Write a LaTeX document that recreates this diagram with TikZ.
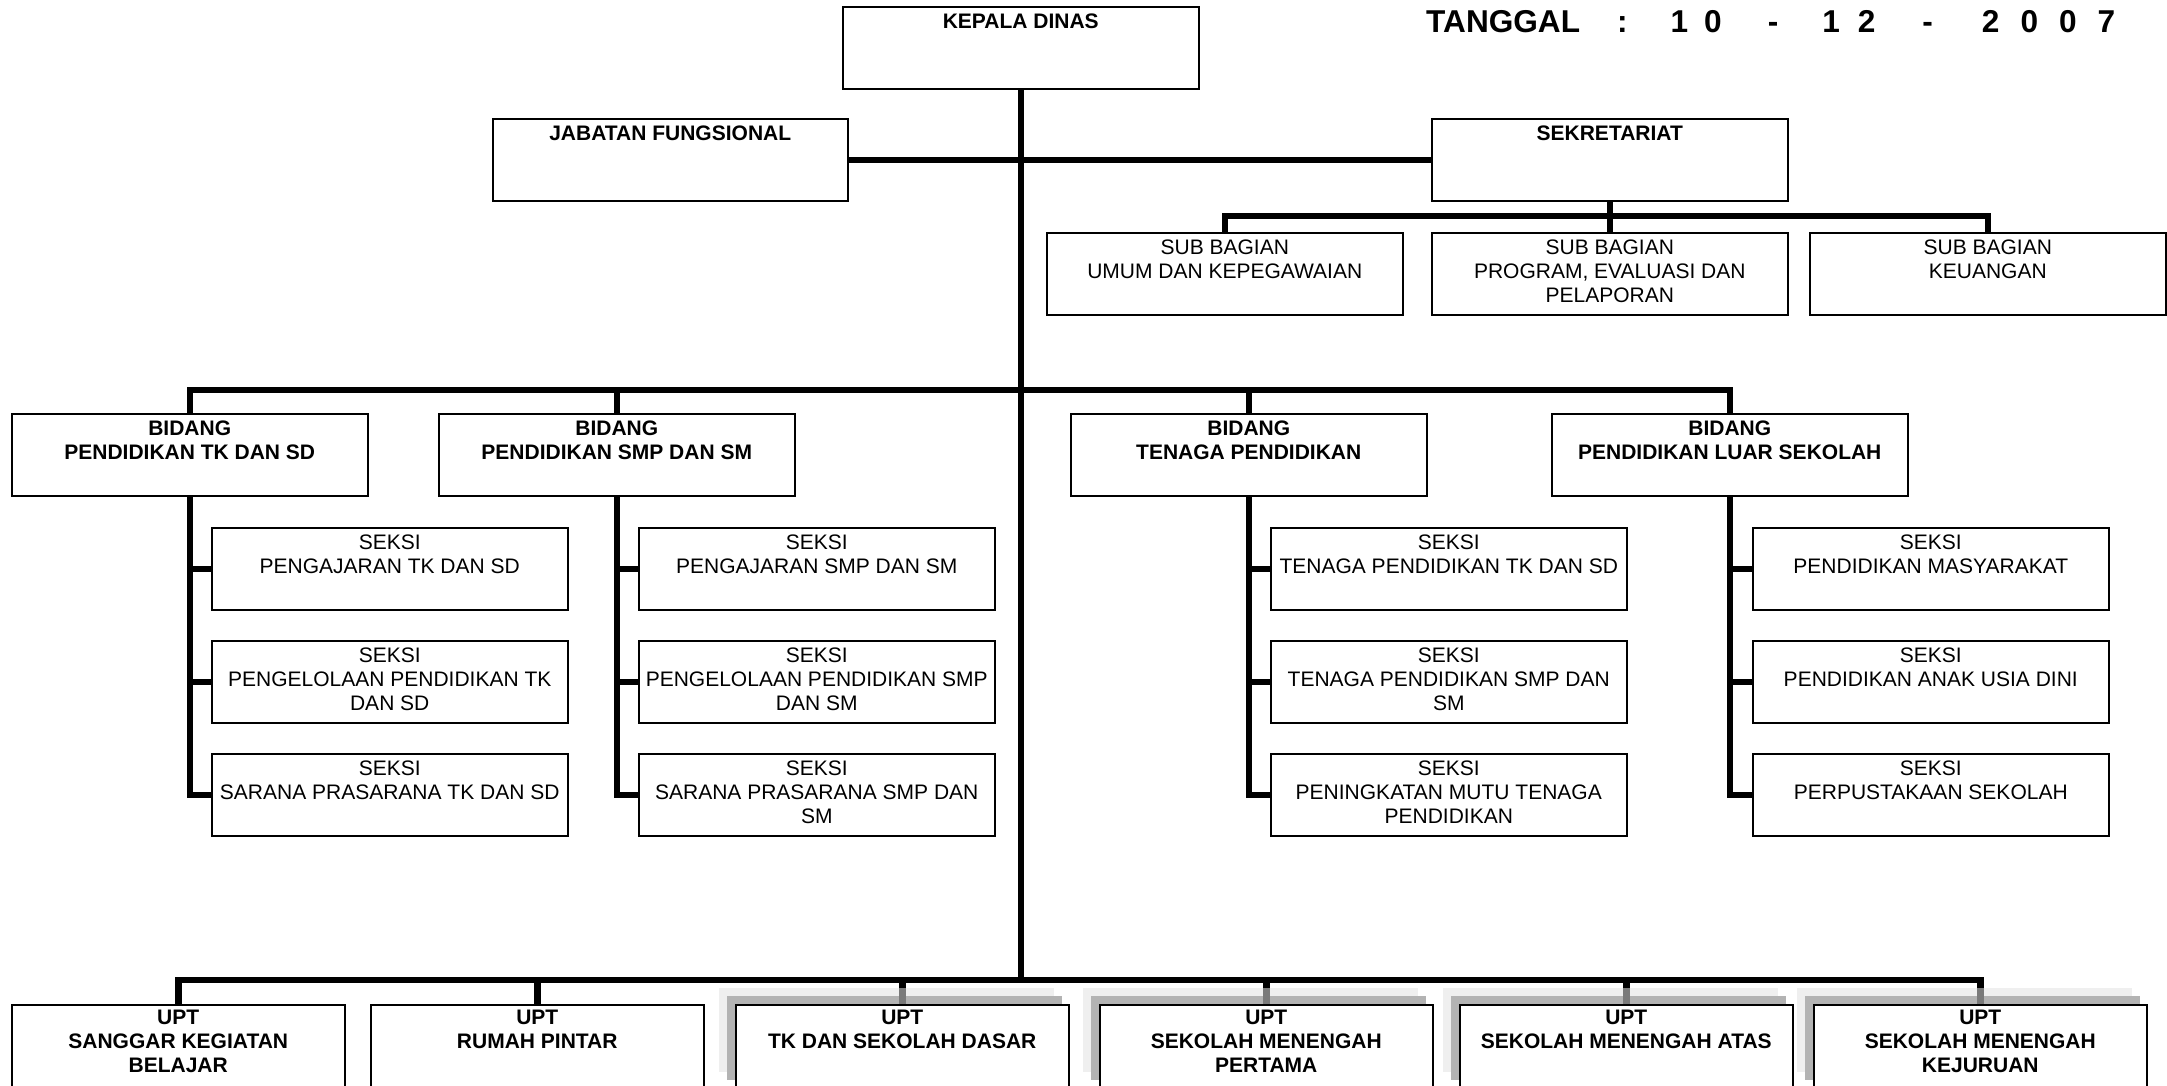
\documentclass[tikz,border=0pt]{standalone}
\usepackage{fontspec}
\setmainfont{Liberation Sans}
\newcommand{\tb}[3][22pt]{\parbox[c][82pt][t]{#2}{\centering\rule{0pt}{#1}#3\par}}
\definecolor{shadowlight}{HTML}{EFEFEF}
\definecolor{shadowmid}{HTML}{B3B3B3}
\definecolor{conngray}{HTML}{7A7A7A}
\pgfdeclarelayer{background}
\pgfsetlayers{background,main}
\tikzset{
  box/.style={draw=black, fill=white, line width=1.5pt, inner sep=0pt, anchor=north west,
    font=\fontsize{21pt}{24pt}\selectfont},
  bbox/.style={box, font=\fontsize{21pt}{24pt}\selectfont\bfseries},
  conn/.style={line width=6.5pt, line join=miter},
  shadowconn/.style={line width=6.6pt, draw=conngray},
  shadowA/.style={fill=shadowlight},
  shadowB/.style={fill=shadowmid}
}
\begin{document}
\begin{tikzpicture}[x=1pt,y=-1pt]
\useasboundingbox (0,0) rectangle (2167,1085);
\clip (0,0) rectangle (2167,1085);

% date
\node[anchor=base west, inner sep=0pt, font=\fontsize{31.6pt}{36pt}\selectfont\bfseries] (tgl) at (1426,32)
  {TANGGAL\hspace{37pt}:\hspace{43pt}1\hspace{16pt}0\hspace{46pt}-\hspace{44pt}1\hspace{18pt}2\hspace{47pt}-\hspace{49pt}2\hspace{21pt}0\hspace{21pt}0\hspace{21pt}7};

% top level
\node[bbox] (kd) at (842,6) {\tb{356pt}{KEPALA DINAS}};
\node[bbox] (jf) at (492,118) {\tb{355pt}{JABATAN FUNGSIONAL}};
\node[bbox] (sk) at (1431,118) {\tb{356pt}{SEKRETARIAT}};

% sub bagian
\node[box] (sb1) at (1046,232) {\tb{356pt}{SUB BAGIAN\\UMUM DAN KEPEGAWAIAN}};
\node[box] (sb2) at (1431,232) {\tb{356pt}{SUB BAGIAN\\PROGRAM, EVALUASI DAN\\PELAPORAN}};
\node[box] (sb3) at (1809,232) {\tb{356pt}{SUB BAGIAN\\KEUANGAN}};

% bidang
\node[bbox] (bd1) at (11,413) {\tb{356pt}{BIDANG\\PENDIDIKAN TK DAN SD}};
\node[bbox] (bd2) at (438,413) {\tb{356pt}{BIDANG\\PENDIDIKAN SMP DAN SM}};
\node[bbox] (bd3) at (1070,413) {\tb{356pt}{BIDANG\\TENAGA PENDIDIKAN}};
\node[bbox] (bd4) at (1551,413) {\tb{356pt}{BIDANG\\PENDIDIKAN LUAR SEKOLAH}};

% seksi
\node[box] (s11) at (211,527) {\tb{356pt}{SEKSI\\PENGAJARAN TK DAN SD}};
\node[box] (s12) at (211,640) {\tb{356pt}{SEKSI\\PENGELOLAAN PENDIDIKAN TK\\DAN SD}};
\node[box] (s13) at (211,753) {\tb{356pt}{SEKSI\\SARANA PRASARANA TK DAN SD}};
\node[box] (s21) at (638,527) {\tb{356pt}{SEKSI\\PENGAJARAN SMP DAN SM}};
\node[box] (s22) at (638,640) {\tb{356pt}{SEKSI\\PENGELOLAAN PENDIDIKAN SMP\\DAN SM}};
\node[box] (s23) at (638,753) {\tb{356pt}{SEKSI\\SARANA PRASARANA SMP DAN\\SM}};
\node[box] (s31) at (1270,527) {\tb{356pt}{SEKSI\\TENAGA PENDIDIKAN TK DAN SD}};
\node[box] (s32) at (1270,640) {\tb{356pt}{SEKSI\\TENAGA PENDIDIKAN SMP DAN\\SM}};
\node[box] (s33) at (1270,753) {\tb{356pt}{SEKSI\\PENINGKATAN MUTU TENAGA\\PENDIDIKAN}};
\node[box] (s41) at (1752,527) {\tb{356pt}{SEKSI\\PENDIDIKAN MASYARAKAT}};
\node[box] (s42) at (1752,640) {\tb{356pt}{SEKSI\\PENDIDIKAN ANAK USIA DINI}};
\node[box] (s43) at (1752,753) {\tb{356pt}{SEKSI\\PERPUSTAKAAN SEKOLAH}};

% UPT
\node[bbox] (u1) at (11,1004) {\tb[20pt]{333pt}{UPT\\SANGGAR KEGIATAN\\BELAJAR}};
\node[bbox] (u2) at (370,1004) {\tb[20pt]{333pt}{UPT\\RUMAH PINTAR}};
\node[bbox] (u3) at (735,1004) {\tb[20pt]{333pt}{UPT\\TK DAN SEKOLAH DASAR}};
\node[bbox] (u4) at (1099,1004) {\tb[20pt]{333pt}{UPT\\SEKOLAH MENENGAH\\PERTAMA}};
\node[bbox] (u5) at (1459,1004) {\tb[20pt]{333pt}{UPT\\SEKOLAH MENENGAH ATAS}};
\node[bbox] (u6) at (1813,1004) {\tb[20pt]{333pt}{UPT\\SEKOLAH MENENGAH\\KEJURUAN}};

% shadows of UPT boxes (behind everything)
\begin{pgfonlayer}{background}
\foreach \u in {u3,u4,u5,u6}{
  \fill[shadowA] ([shift={(-16,-16)}]\u.north west) rectangle ([shift={(-16,-16)}]\u.south east);
  \fill[shadowB] ([shift={(-8,-8)}]\u.north west) rectangle ([shift={(-8,-8)}]\u.south east);
}
\end{pgfonlayer}

% bus coordinates
\coordinate (sbbus) at (1609,216);
\coordinate (bdbus) at (1019,390);
\coordinate (upbus) at (1019,980);

% connectors
\draw[conn] (kd.south) -- (kd.south |- upbus);
\draw[conn] (jf.east) -- (sk.west);
\draw[conn] (sk.south) -- (sk.south |- sbbus);
\draw[conn] (sb1.north) |- (sbbus) -| (sb3.north);
\draw[conn] (sb2.north) -- (sb2.north |- sbbus);

\draw[conn] (bd1.north) |- (bdbus) -| (bd4.north);
\draw[conn] (bd2.north) -- (bd2.north |- bdbus);
\draw[conn] (bd3.north) -- (bd3.north |- bdbus);

\draw[conn] (bd1.south) |- (s13.west);
\draw[conn] (s11.west) -- (s11.west -| bd1.south);
\draw[conn] (s12.west) -- (s12.west -| bd1.south);
\draw[conn] (bd2.south) |- (s23.west);
\draw[conn] (s21.west) -- (s21.west -| bd2.south);
\draw[conn] (s22.west) -- (s22.west -| bd2.south);
\draw[conn] (bd3.south) |- (s33.west);
\draw[conn] (s31.west) -- (s31.west -| bd3.south);
\draw[conn] (s32.west) -- (s32.west -| bd3.south);
\draw[conn] (bd4.south) |- (s43.west);
\draw[conn] (s41.west) -- (s41.west -| bd4.south);
\draw[conn] (s42.west) -- (s42.west -| bd4.south);

\draw[conn] (u1.north) |- (upbus) -| (u6.north);
\draw[conn] (u2.north) -- (u2.north |- upbus);
\draw[conn] (u3.north) -- (u3.north |- upbus);
\draw[conn] (u4.north) -- (u4.north |- upbus);
\draw[conn] (u5.north) -- (u5.north |- upbus);

% part of the drops that passes through the shadows
\foreach \u in {u3,u4,u5,u6}{
  \draw[shadowconn] ([yshift=16pt]\u.north) -- (\u.north);
}
\end{tikzpicture}
\end{document}
